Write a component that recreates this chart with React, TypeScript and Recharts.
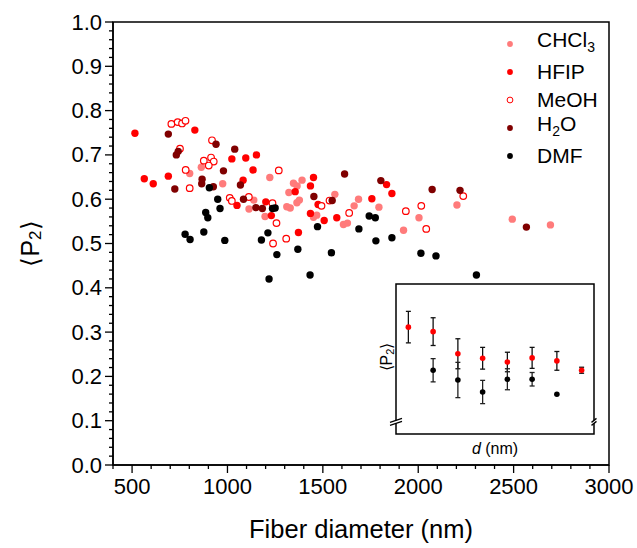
import { ScatterChart, Scatter, XAxis, YAxis, ReferenceArea, ReferenceDot, ErrorBar, Legend, Label } from 'recharts'

const FONT = '"Liberation Sans", Arial, Helvetica, sans-serif'

// main plot: [fiber diameter (nm), <P2>]
const chcl3 = [
  [863, 0.672], [802, 0.658], [975, 0.635], [1222, 0.649], [1113, 0.578], [1197, 0.561],
  [1138, 0.598], [1346, 0.636], [1365, 0.63], [1391, 0.643], [1322, 0.615], [1377, 0.598],
  [1364, 0.592], [1311, 0.583], [1329, 0.58], [1468, 0.564], [1451, 0.559], [1563, 0.611],
  [1608, 0.543], [1629, 0.546], [1664, 0.585], [1687, 0.6], [1794, 0.582], [1923, 0.53],
  [2004, 0.558], [2203, 0.587], [2493, 0.555], [2693, 0.542],
]
const hfip = [
  [515, 0.749], [829, 0.756], [564, 0.646], [611, 0.635], [690, 0.652], [1023, 0.691],
  [1096, 0.693], [1152, 0.7], [1134, 0.666], [1082, 0.643], [1050, 0.586], [1201, 0.594],
  [1230, 0.563], [1372, 0.525], [1355, 0.617], [1451, 0.649], [1435, 0.63], [1435, 0.568],
  [1475, 0.588], [1507, 0.552], [1573, 0.558], [1757, 0.601], [1834, 0.633], [1862, 0.613],
]
const meoh = [
  [706, 0.77], [739, 0.774], [762, 0.771], [780, 0.777], [919, 0.733], [751, 0.714],
  [876, 0.687], [914, 0.694], [928, 0.685], [902, 0.676], [781, 0.666], [802, 0.625],
  [1269, 0.665], [1012, 0.603], [1023, 0.596], [1112, 0.605], [1236, 0.591], [1257, 0.546],
  [1308, 0.511], [1239, 0.5], [1493, 0.585], [1535, 0.597], [1638, 0.569], [1935, 0.573],
  [2016, 0.585], [2042, 0.533], [2236, 0.607],
]
const water = [
  [690, 0.747], [940, 0.724], [732, 0.7], [742, 0.708], [1038, 0.713], [979, 0.664],
  [867, 0.645], [865, 0.635], [724, 0.623], [926, 0.628], [1068, 0.632], [1084, 0.6],
  [1149, 0.581], [1183, 0.579], [1453, 0.606], [1614, 0.657], [1549, 0.597], [1804, 0.642],
  [2073, 0.622], [2219, 0.62], [2567, 0.537],
]
const dmf = [
  [905, 0.626], [949, 0.6], [961, 0.579], [886, 0.57], [897, 0.558], [778, 0.521],
  [804, 0.509], [876, 0.526], [986, 0.507], [1178, 0.508], [1212, 0.524], [1236, 0.579],
  [1250, 0.58], [1259, 0.475], [1369, 0.487], [1472, 0.538], [1218, 0.42], [1433, 0.429],
  [1545, 0.479], [1689, 0.533], [1743, 0.562], [1775, 0.558], [1778, 0.506], [1862, 0.513],
  [2014, 0.478], [2093, 0.472], [2305, 0.429],
]

const xMajor = [500, 1000, 1500, 2000, 2500, 3000]
const yMajor = [0, 0.1, 0.2, 0.3, 0.4, 0.5, 0.6, 0.7, 0.8, 0.9, 1.0]
const xMinor = Array.from({ length: 27 }, (_, i) => 400 + i * 100)
const yMinor = Array.from({ length: 51 }, (_, i) => Math.round(i * 2) / 100)

// inset: binned diameter vs mean <P2>
const insetHfipX = [1, 2, 3, 4, 5, 6, 7, 8]
const insetHfipY = [0.635, 0.623, 0.564, 0.552, 0.542, 0.553, 0.545, 0.52]
const insetHfipErr = [0.042, 0.037, 0.04, 0.029, 0.026, 0.028, 0.025, 0.008]
const insetDmfX = [2, 3, 4, 5, 6, 7]
const insetDmfY = [0.52, 0.494, 0.462, 0.496, 0.496, 0.456]
const insetDmfErr = [0.031, 0.047, 0.031, 0.028, 0.018, 0]

const toPts = (arr: number[][]) => arr.map(([x, y]) => ({ x, y }))

const series = [
  { key: 'chcl3', data: chcl3, fill: '#ff7b7b', stroke: 'none' },
  { key: 'hfip', data: hfip, fill: '#ff0000', stroke: 'none' },
  { key: 'meoh', data: meoh, fill: '#ffffff', stroke: '#ff0000' },
  { key: 'water', data: water, fill: '#800000', stroke: 'none' },
  { key: 'dmf', data: dmf, fill: '#000000', stroke: 'none' },
]

const legendLabels: Record<string, any> = {
  chcl3: <>CHCl<sub style={{ fontSize: 14 }}>3</sub></>,
  hfip: 'HFIP',
  meoh: 'MeOH',
  water: <>H<sub style={{ fontSize: 14 }}>2</sub>O</>,
  dmf: 'DMF',
}

function XTick(props: any) {
  const { x, y, payload } = props
  const major = xMajor.includes(payload.value)
  return (
    <g>
      <line x1={x} x2={x} y1={y} y2={y + (major ? 8 : 4)} stroke="#000" strokeWidth={1.3} />
      {major && (
        <text x={x} y={y + 29} textAnchor="middle" fontSize={22} fill="#000" fontFamily={FONT}>
          {payload.value}
        </text>
      )}
    </g>
  )
}

function YTick(props: any) {
  const { x, y, payload } = props
  const major = yMajor.some((v) => Math.abs(v - payload.value) < 1e-6)
  return (
    <g>
      <line x1={x - (major ? 8 : 4)} x2={x} y1={y} y2={y} stroke="#000" strokeWidth={1.3} />
      {major && (
        <text x={x - 11} y={y + 7.5} textAnchor="end" fontSize={22} fill="#000" fontFamily={FONT}>
          {payload.value.toFixed(1)}
        </text>
      )}
    </g>
  )
}

function LegendBox() {
  return (
    <div style={{ fontFamily: FONT, fontSize: 21, color: '#000' }}>
      {series.map((s) => (
        <div key={s.key} style={{ height: 28, display: 'flex', alignItems: 'center' }}>
          <svg width={14} height={14}>
            <circle cx={7} cy={7} r={2.9} fill={s.fill} stroke={s.stroke} strokeWidth={1} />
          </svg>
          <span style={{ marginLeft: 20, lineHeight: '28px' }}>{legendLabels[s.key]}</span>
        </div>
      ))}
    </div>
  )
}

function BreakMark(props: any) {
  const { cx, cy, len } = props
  const h = len / 2
  return (
    <g>
      <polygon
        points={`${cx - h},${cy + 1.5} ${cx + h},${cy - 2.5} ${cx + h},${cy + 0.5} ${cx - h},${cy + 4.5}`}
        fill="#fff"
      />
      <line x1={cx - h} y1={cy + 1.5} x2={cx + h} y2={cy - 2.5} stroke="#000" strokeWidth={1.3} />
      <line x1={cx - h} y1={cy + 4.5} x2={cx + h} y2={cy + 0.5} stroke="#000" strokeWidth={1.3} />
    </g>
  )
}

export default function App() {
  const hfipInset = insetHfipX.map((x, i) => ({ x, y: insetHfipY[i], err: insetHfipErr[i] }))
  const dmfInset = insetDmfX.map((x, i) => ({ x, y: insetDmfY[i], err: insetDmfErr[i] }))

  return (
    <div style={{ position: 'absolute', left: 0, top: 0, width: 637, height: 548, background: '#fff', fontFamily: FONT }}>
      <ScatterChart width={637} height={548} margin={{ top: 22, right: 28, bottom: 0, left: 0 }}>
        <XAxis
          type="number"
          dataKey="x"
          domain={[400, 3000]}
          ticks={xMinor}
          interval={0}
          tick={<XTick />}
          tickLine={false}
          tickSize={0}
          tickMargin={0}
          height={83}
          axisLine={{ stroke: '#000', strokeWidth: 1.5 }}
        >
          <Label
            content={(p: any) => (
              <text
                x={p.viewBox.x + p.viewBox.width / 2}
                y={538}
                textAnchor="middle"
                fontSize={25.5}
                fill="#000"
                fontFamily={FONT}
              >
                Fiber diameter (nm)
              </text>
            )}
          />
        </XAxis>
        <YAxis
          type="number"
          dataKey="y"
          domain={[0, 1]}
          ticks={yMinor}
          interval={0}
          tick={<YTick />}
          tickLine={false}
          tickSize={0}
          tickMargin={0}
          width={113}
          axisLine={{ stroke: '#000', strokeWidth: 1.5 }}
        >
          <Label
            content={(p: any) => {
              const cy = p.viewBox.y + p.viewBox.height / 2
              return (
                <text
                  x={30}
                  y={cy}
                  transform={`rotate(-90, 30, ${cy})`}
                  textAnchor="middle"
                  dominantBaseline="central"
                  fontSize={25}
                  fill="#000"
                  fontFamily={FONT}
                >
                  ⟨P<tspan dy={5} fontSize={17}>2</tspan>
                  <tspan dy={-5}>⟩</tspan>
                </text>
              )
            }}
          />
        </YAxis>
        <ReferenceArea x1={400} x2={3000} y1={0} y2={1} fill="none" stroke="#000" strokeWidth={1.5} />
        {series.map((s) => (
          <Scatter
            key={s.key}
            name={s.key}
            data={toPts(s.data)}
            isAnimationActive={false}
            shape={(p: any) => (
              <circle
                cx={p.cx}
                cy={p.cy}
                r={s.stroke === 'none' ? 3.7 : 3.3}
                fill={s.fill}
                stroke={s.stroke}
                strokeWidth={1.2}
              />
            )}
          />
        ))}
        <Legend
          layout="vertical"
          align="center"
          verticalAlign="middle"
          content={() => <LegendBox />}
          wrapperStyle={{ position: 'absolute', left: 503, top: 30, width: 120 }}
        />
      </ScatterChart>

      <div style={{ position: 'absolute', left: 366, top: 274 }}>
        <ScatterChart width={240} height={200} margin={{ top: 10, right: 12, bottom: 20, left: 0 }}>
          <XAxis type="number" dataKey="x" domain={[0.5, 8.5]} tick={false} tickLine={false} axisLine={false} height={20}>
            <Label
              content={(p: any) => (
                <text
                  x={p.viewBox.x + p.viewBox.width / 2}
                  y={180}
                  textAnchor="middle"
                  fontSize={16}
                  fill="#000"
                  fontFamily={FONT}
                >
                  <tspan fontStyle="italic">d</tspan> (nm)
                </text>
              )}
            />
          </XAxis>
          <YAxis type="number" dataKey="y" domain={[0.35, 0.75]} tick={false} tickLine={false} axisLine={false} width={30}>
            <Label
              content={(p: any) => {
                const cy = p.viewBox.y + p.viewBox.height / 2 - 2
                return (
                  <text
                    x={20}
                    y={cy}
                    transform={`rotate(-90, 20, ${cy})`}
                    textAnchor="middle"
                    dominantBaseline="central"
                    fontSize={16}
                    fill="#000"
                    fontFamily={FONT}
                  >
                    ⟨P<tspan dy={4} fontSize={11}>2</tspan>
                    <tspan dy={-4}>⟩</tspan>
                  </text>
                )
              }}
            />
          </YAxis>
          <ReferenceArea x1={0.5} x2={8.5} y1={0.35} y2={0.75} fill="none" stroke="#000" strokeWidth={1.5} />
          <ReferenceDot x={0.5} y={0.385} shape={(p: any) => <BreakMark {...p} len={12} />} />
          <ReferenceDot x={8.5} y={0.385} shape={(p: any) => <BreakMark {...p} len={5} />} />
          <Scatter
            data={hfipInset}
            isAnimationActive={false}
            shape={(p: any) => <circle cx={p.cx} cy={p.cy} r={2.8} fill="#ff0000" />}
          >
            <ErrorBar dataKey="err" direction="y" width={2.5} stroke="#111" strokeWidth={1.3} isAnimationActive={false} />
          </Scatter>
          <Scatter
            data={dmfInset}
            isAnimationActive={false}
            shape={(p: any) => <circle cx={p.cx} cy={p.cy} r={2.8} fill="#000" />}
          >
            <ErrorBar dataKey="err" direction="y" width={2.5} stroke="#222" strokeWidth={1.3} isAnimationActive={false} />
          </Scatter>
        </ScatterChart>
      </div>
    </div>
  )
}
